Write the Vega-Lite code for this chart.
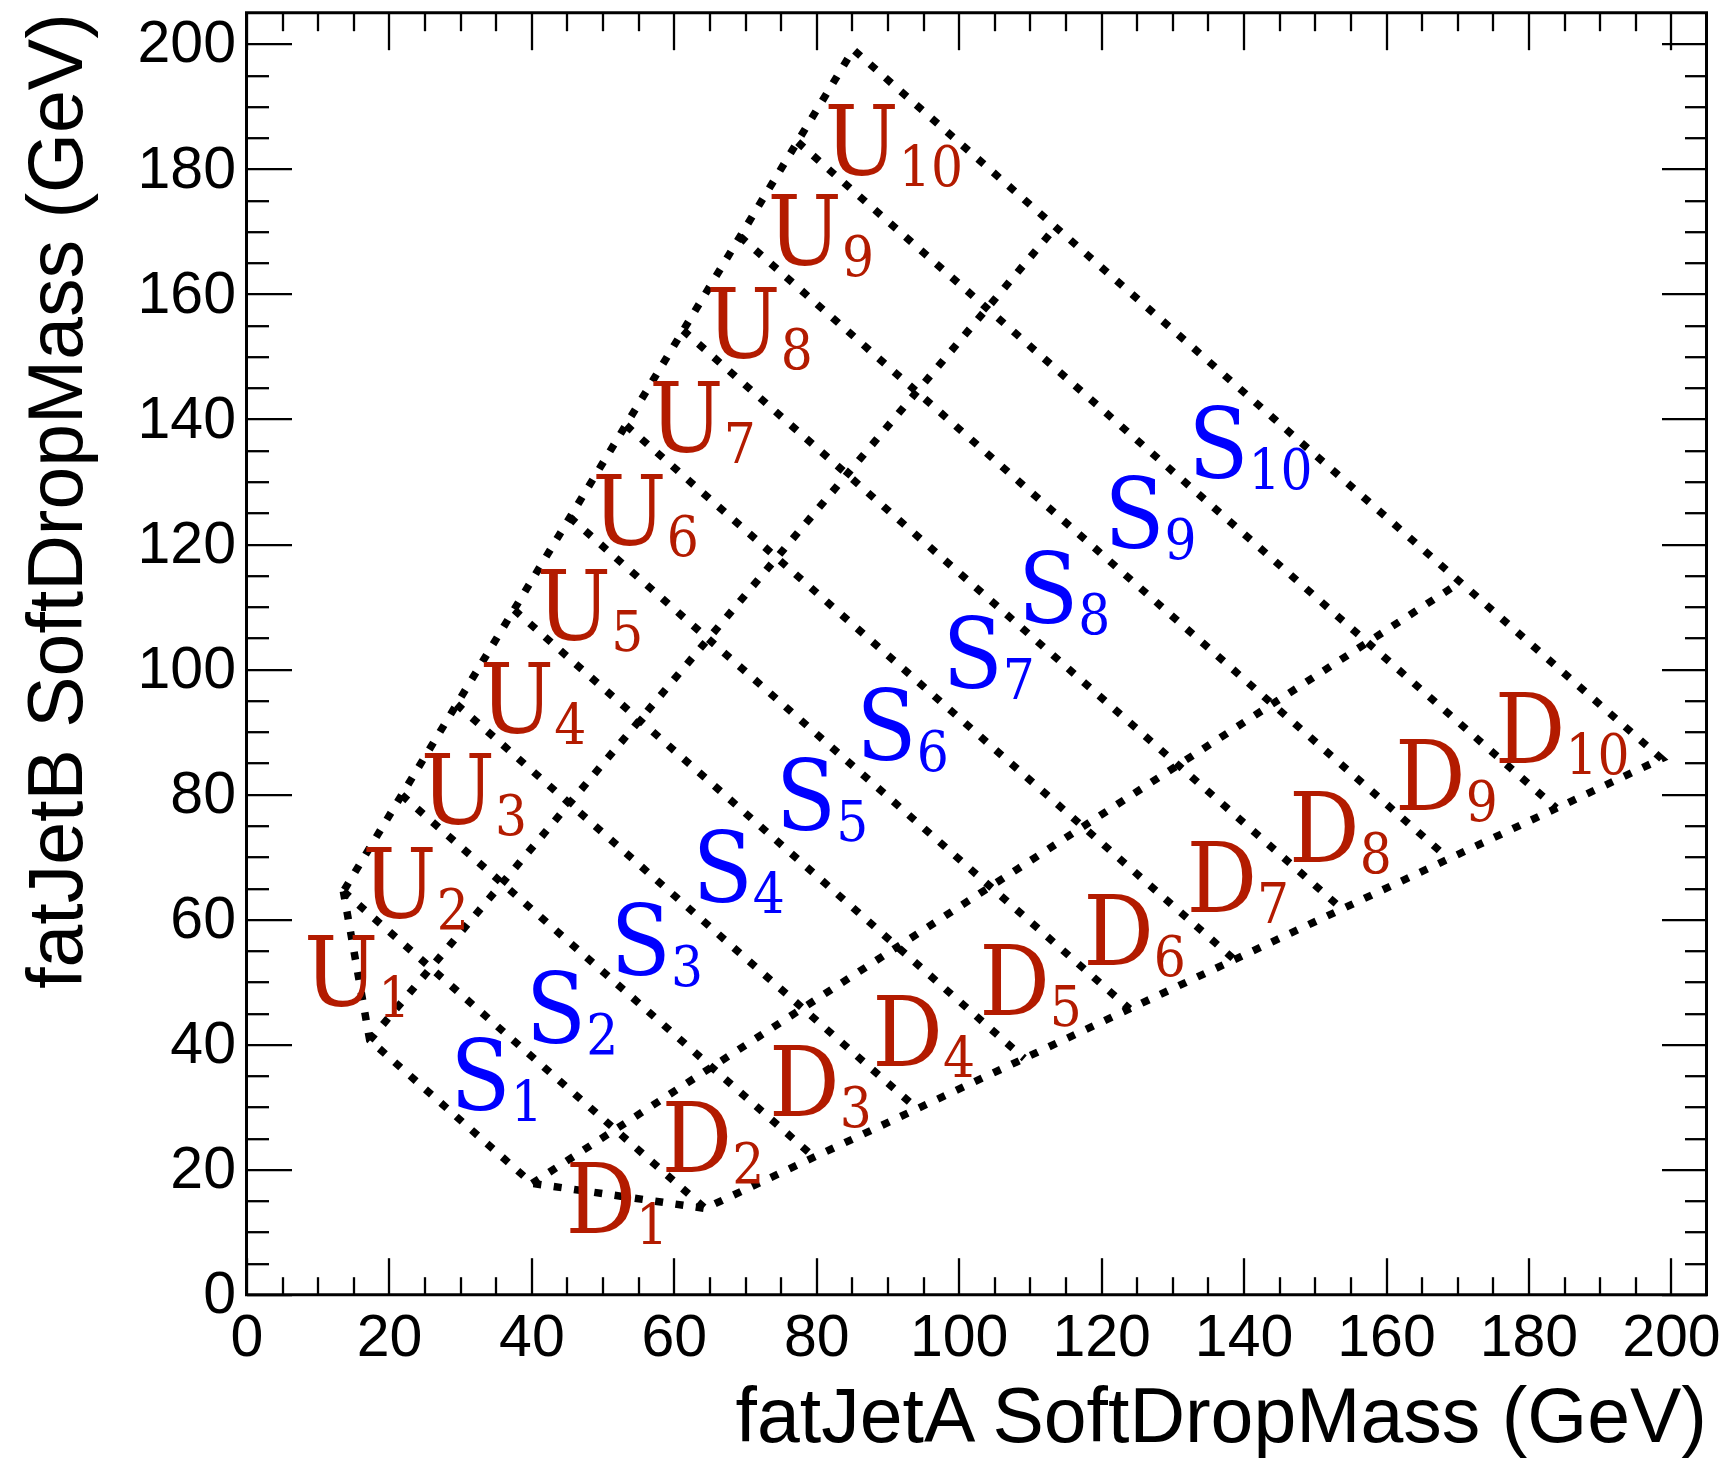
{
  "$schema": "https://vega.github.io/schema/vega-lite/v6.json",
  "width": 1460,
  "height": 1282,
  "autosize": {"type": "none"},
  "padding": {"left": 246.5, "top": 12.7, "right": 16.5, "bottom": 167.3},
  "background": "white",
  "config": {"view": {"stroke": "black", "strokeWidth": 3}},
  "datasets": {
    "lines": [
      {"seg": "outer", "ord": 0, "x": 13.6, "y": 64.5},
      {"seg": "outer", "ord": 1, "x": 17.3, "y": 40.7},
      {"seg": "outer", "ord": 2, "x": 40.1, "y": 17.8},
      {"seg": "outer", "ord": 3, "x": 64.4, "y": 13.8},
      {"seg": "outer", "ord": 4, "x": 198.7, "y": 85.7},
      {"seg": "outer", "ord": 5, "x": 85.2, "y": 199.1},
      {"seg": "outer", "ord": 6, "x": 13.6, "y": 64.5},
      {"seg": "US", "ord": 0, "x": 17.3, "y": 40.7},
      {"seg": "US", "ord": 1, "x": 113.6, "y": 170.7},
      {"seg": "SD", "ord": 0, "x": 40.1, "y": 17.8},
      {"seg": "SD", "ord": 1, "x": 170.4, "y": 113.9},
      {"seg": "d1", "ord": 0, "x": 13.6, "y": 64.5},
      {"seg": "d1", "ord": 1, "x": 64.4, "y": 13.8},
      {"seg": "d2", "ord": 0, "x": 21.8, "y": 79.9},
      {"seg": "d2", "ord": 1, "x": 79.7, "y": 22.0},
      {"seg": "d3", "ord": 0, "x": 29.5, "y": 94.4},
      {"seg": "d3", "ord": 1, "x": 94.2, "y": 29.7},
      {"seg": "d4", "ord": 0, "x": 37.6, "y": 109.5},
      {"seg": "d4", "ord": 1, "x": 109.2, "y": 37.8},
      {"seg": "d5", "ord": 0, "x": 45.4, "y": 124.3},
      {"seg": "d5", "ord": 1, "x": 124.0, "y": 45.7},
      {"seg": "d6", "ord": 0, "x": 53.3, "y": 139.0},
      {"seg": "d6", "ord": 1, "x": 138.7, "y": 53.6},
      {"seg": "d7", "ord": 0, "x": 61.3, "y": 154.2},
      {"seg": "d7", "ord": 1, "x": 153.8, "y": 61.7},
      {"seg": "d8", "ord": 0, "x": 69.3, "y": 169.2},
      {"seg": "d8", "ord": 1, "x": 168.8, "y": 69.7},
      {"seg": "d9", "ord": 0, "x": 77.4, "y": 184.3},
      {"seg": "d9", "ord": 1, "x": 183.9, "y": 77.8}
    ],
    "labels": [
      {"grp": "U", "letter": "U", "sub": "1", "x": 18.5, "y": 46.2},
      {"grp": "U", "letter": "U", "sub": "2", "x": 26.7, "y": 60.3},
      {"grp": "U", "letter": "U", "sub": "3", "x": 34.9, "y": 75.3},
      {"grp": "U", "letter": "U", "sub": "4", "x": 43.2, "y": 89.8},
      {"grp": "U", "letter": "U", "sub": "5", "x": 51.2, "y": 104.7},
      {"grp": "U", "letter": "U", "sub": "6", "x": 59.0, "y": 119.9},
      {"grp": "U", "letter": "U", "sub": "7", "x": 67.0, "y": 134.8},
      {"grp": "U", "letter": "U", "sub": "8", "x": 75.0, "y": 149.8},
      {"grp": "U", "letter": "U", "sub": "9", "x": 83.6, "y": 164.7},
      {"grp": "U", "letter": "U", "sub": "10", "x": 91.6, "y": 179.0},
      {"grp": "S", "letter": "S", "sub": "1", "x": 37.1, "y": 29.6},
      {"grp": "S", "letter": "S", "sub": "2", "x": 47.7, "y": 40.3},
      {"grp": "S", "letter": "S", "sub": "3", "x": 59.6, "y": 51.2},
      {"grp": "S", "letter": "S", "sub": "4", "x": 71.1, "y": 62.8},
      {"grp": "S", "letter": "S", "sub": "5", "x": 82.8, "y": 74.3},
      {"grp": "S", "letter": "S", "sub": "6", "x": 94.1, "y": 85.5},
      {"grp": "S", "letter": "S", "sub": "7", "x": 106.2, "y": 97.0},
      {"grp": "S", "letter": "S", "sub": "8", "x": 116.8, "y": 107.4},
      {"grp": "S", "letter": "S", "sub": "9", "x": 128.9, "y": 119.4},
      {"grp": "S", "letter": "S", "sub": "10", "x": 140.7, "y": 130.6},
      {"grp": "D", "letter": "D", "sub": "1", "x": 54.7, "y": 9.9},
      {"grp": "D", "letter": "D", "sub": "2", "x": 68.2, "y": 19.7},
      {"grp": "D", "letter": "D", "sub": "3", "x": 83.3, "y": 28.5},
      {"grp": "D", "letter": "D", "sub": "4", "x": 97.8, "y": 36.5},
      {"grp": "D", "letter": "D", "sub": "5", "x": 112.8, "y": 44.8},
      {"grp": "D", "letter": "D", "sub": "6", "x": 127.4, "y": 52.8},
      {"grp": "D", "letter": "D", "sub": "7", "x": 141.9, "y": 61.2},
      {"grp": "D", "letter": "D", "sub": "8", "x": 156.3, "y": 69.2},
      {"grp": "D", "letter": "D", "sub": "9", "x": 171.2, "y": 77.5},
      {"grp": "D", "letter": "D", "sub": "10", "x": 185.2, "y": 85.0}
    ]
  },
  "layer": [
    {
      "data": {"name": "lines"},
      "mark": {"type": "line", "color": "black", "strokeWidth": 7.5, "strokeDash": [8, 12.5], "strokeCap": "butt"},
      "encoding": {
        "x": {
          "field": "x", "type": "quantitative",
          "scale": {"domain": [0, 205], "nice": false, "zero": false},
          "axis": {
            "orient": "bottom",
            "values": [0,5,10,15,20,25,30,35,40,45,50,55,60,65,70,75,80,85,90,95,100,105,110,115,120,125,130,135,140,145,150,155,160,165,170,175,180,185,190,195,200],
            "tickSize": {"condition": {"test": "datum.value % 20 === 0", "value": -37}, "value": -18},
            "tickWidth": 2.3, "tickColor": "black", "domain": false, "grid": false,
            "labelExpr": "datum.value % 20 === 0 ? datum.label : ''",
            "labelFont": "Liberation Sans", "labelFontSize": 59, "labelColor": "black",
            "labelPadding": 51, "labelFlush": false, "labelOverlap": false, "labelBound": false,
            "title": "fatJetA SoftDropMass (GeV)", "titleFont": "Liberation Sans", "titleFontSize": 77,
            "titleFontWeight": "normal", "titleAnchor": "end", "titleColor": "black", "titlePadding": -6
          }
        },
        "y": {
          "field": "y", "type": "quantitative",
          "scale": {"domain": [0, 205], "nice": false, "zero": false},
          "axis": {
            "orient": "left",
            "values": [0,5,10,15,20,25,30,35,40,45,50,55,60,65,70,75,80,85,90,95,100,105,110,115,120,125,130,135,140,145,150,155,160,165,170,175,180,185,190,195,200],
            "tickSize": {"condition": {"test": "datum.value % 20 === 0", "value": -45}, "value": -22},
            "tickWidth": 2.3, "tickColor": "black", "domain": false, "grid": false,
            "labelExpr": "datum.value % 20 === 0 ? datum.label : ''",
            "labelFont": "Liberation Sans", "labelFontSize": 59, "labelColor": "black",
            "labelPadding": 56, "labelFlush": false, "labelOverlap": false, "labelBound": false,
            "title": "fatJetB SoftDropMass (GeV)", "titleFont": "Liberation Sans", "titleFontSize": 77,
            "titleFontWeight": "normal", "titleAnchor": "end", "titleColor": "black", "titlePadding": 40
          }
        },
        "detail": {"field": "seg", "type": "nominal"},
        "order": {"field": "ord", "type": "quantitative"}
      }
    },
    {
      "data": {"name": "labels"},
      "mark": {"type": "text", "font": "'DejaVu Serif Condensed', 'DejaVu Serif'", "fontSize": 98, "align": "right", "baseline": "alphabetic"},
      "encoding": {
        "x": {
          "field": "x", "type": "quantitative",
          "axis": {
            "orient": "top",
            "values": [0,5,10,15,20,25,30,35,40,45,50,55,60,65,70,75,80,85,90,95,100,105,110,115,120,125,130,135,140,145,150,155,160,165,170,175,180,185,190,195,200],
            "tickSize": {"condition": {"test": "datum.value % 20 === 0", "value": -37}, "value": -18},
            "tickWidth": 2.3, "tickColor": "black", "domain": false, "grid": false,
            "labels": false, "title": null
          }
        },
        "y": {
          "field": "y", "type": "quantitative",
          "axis": {
            "orient": "right",
            "values": [0,5,10,15,20,25,30,35,40,45,50,55,60,65,70,75,80,85,90,95,100,105,110,115,120,125,130,135,140,145,150,155,160,165,170,175,180,185,190,195,200],
            "tickSize": {"condition": {"test": "datum.value % 20 === 0", "value": -45}, "value": -22},
            "tickWidth": 2.3, "tickColor": "black", "domain": false, "grid": false,
            "labels": false, "title": null
          }
        },
        "text": {"field": "letter"},
        "color": {"field": "grp", "type": "nominal", "scale": {"domain": ["U", "S", "D"], "range": ["#b31b00", "#0000ff", "#b31b00"]}, "legend": null}
      }
    },
    {
      "data": {"name": "labels"},
      "mark": {"type": "text", "font": "'DejaVu Serif Condensed', 'DejaVu Serif'", "fontSize": 56, "align": "left", "baseline": "alphabetic", "dy": 11},
      "encoding": {
        "x": {"field": "x", "type": "quantitative", "axis": null},
        "y": {"field": "y", "type": "quantitative", "axis": null},
        "text": {"field": "sub"},
        "color": {"field": "grp", "type": "nominal", "scale": {"domain": ["U", "S", "D"], "range": ["#b31b00", "#0000ff", "#b31b00"]}, "legend": null}
      }
    }
  ],
  "resolve": {"axis": {"x": "independent", "y": "independent"}}
}
